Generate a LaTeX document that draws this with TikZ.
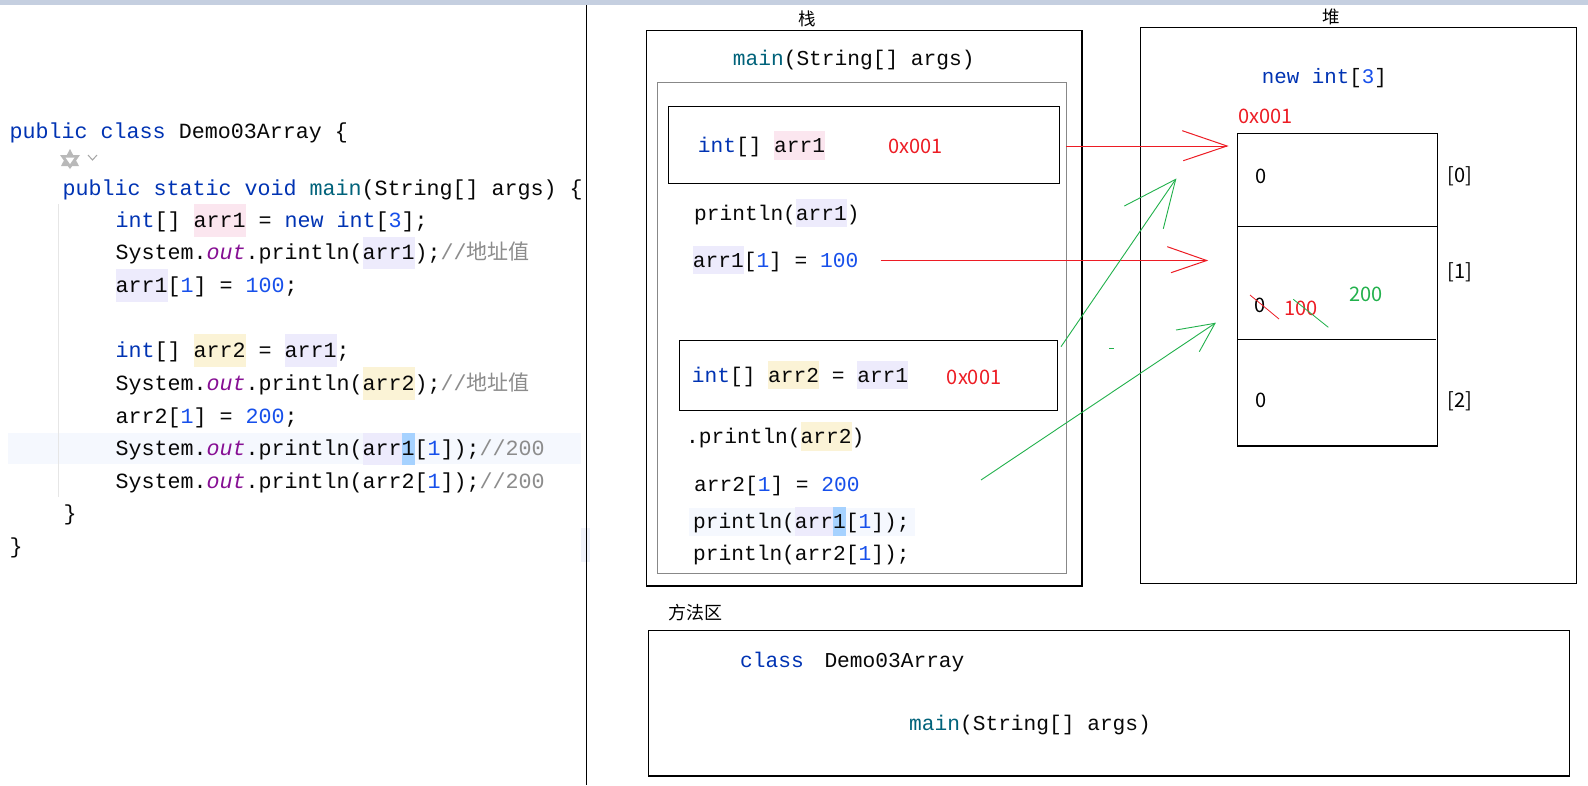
\documentclass[tikz,border=0pt]{standalone}
\usepackage{fontspec}
\usepackage{xcolor}
\newfontfamily\codefont{Liberation Mono}
\newfontfamily\cjk{Noto Sans CJK SC}
\definecolor{kw}{HTML}{0033B3}
\definecolor{num}{HTML}{1750EB}
\definecolor{outc}{HTML}{871094}
\definecolor{fn}{HTML}{00627A}
\definecolor{cmt}{HTML}{8C8C8C}
\definecolor{txt}{HTML}{080808}
\definecolor{hpink}{HTML}{FBE6EF}
\definecolor{hlav}{HTML}{EDEBFC}
\definecolor{hyel}{HTML}{FBF3D6}
\definecolor{hsel}{HTML}{A6D2FF}
\definecolor{rowbg}{HTML}{F5F8FE}
\definecolor{guide}{HTML}{E6E6E6}
\definecolor{band}{HTML}{C5CFE0}
\definecolor{pred}{HTML}{ED1C24}
\definecolor{pgreen}{HTML}{22B14C}
\definecolor{gbox}{HTML}{888888}
\definecolor{strip}{HTML}{F0F2FA}
% highlight: color, height above baseline, depth below, text
\newcommand\hlbg[4]{{\setlength{\fboxsep}{0pt}\colorbox{#1}{\rule[-#3]{0pt}{\dimexpr#2+#3\relax}#4}}}
\newcommand\chl[2]{\hlbg{#1}{23pt}{9.5pt}{#2}}
\newcommand\shl[2]{\hlbg{#1}{21.5pt}{7.3pt}{#2}}
\newcommand\kwd[1]{\textcolor{kw}{#1}}
\newcommand\nm[1]{\textcolor{num}{#1}}
\newcommand\outw{\textcolor{outc}{\itshape out}}
\newcommand\fnm[1]{\textcolor{fn}{#1}}
\newcommand\cmtcn[1]{\textcolor{cmt}{//{\cjk\fontsize{21}{26}\selectfont #1}}}
\begin{document}
\begin{tikzpicture}[x=1pt,y=-1pt,
  code/.style={anchor=base west, inner sep=0pt, text=txt, font=\codefont\fontsize{21.67pt}{26pt}\selectfont},
  scode/.style={anchor=base west, inner sep=0pt, text=txt, font=\codefont\fontsize{21.2pt}{26pt}\selectfont},
  sans/.style={anchor=base west, inner sep=0pt, text=black, font=\cjk\fontsize{20pt}{24pt}\selectfont},
  title/.style={anchor=center, inner sep=0pt, text=black, font=\cjk\fontsize{17.5pt}{21pt}\selectfont},
  boxline/.style={draw=black, line width=1.4pt},
  redline/.style={draw=pred, line width=1pt},
  greenline/.style={draw=pgreen, line width=0.9pt}]
\useasboundingbox (0,0) rectangle (1588,785);
\fill[white] (0,0) rectangle (1588,785);
% top band
\fill[band] (0,0) rectangle (1588,5);
% code panel
\fill[rowbg] (7.6,432.7) rectangle (581,464);
\fill[strip] (581,528) rectangle (590,561.7);
\draw[black, line width=1.2pt] (586.3,5) -- (586.3,785);
\draw[guide, line width=1pt] (58.6,204) -- (58.6,497);
\node[code] (c1) at (9.5,138.7) {\kwd{public class} Demo03Array \{};
% icon
\begin{scope}[shift={(70,158)}]
\fill[gray!55] (-9,8) -- (0,-9) -- (9,8) -- cycle;
\fill[white] (-4,5) -- (0,-3) -- (4,5) -- cycle;
\fill[gray!55] (-10,-3) -- (10,-3) -- (0,11) -- cycle;
\fill[white] (-4.5,-0.5) -- (4.5,-0.5) -- (0,6) -- cycle;
\end{scope}
\draw[gray!70, line width=1pt] (88,155) -- (92.5,160) -- (97,155);
\node[code] (c3) at (62.4,195) {\kwd{public static void} \fnm{main}(String[] args) \{};
\node[code] (c4) at (115.4,227) {\kwd{int}[] \chl{hpink}{arr1} = \kwd{new int}[\nm{3}];};
\node[code] (c5) at (115.4,259.5) {System.\outw.println(\chl{hlav}{arr1});\cmtcn{地址值}};
\node[code] (c6) at (115.4,292) {\chl{hlav}{arr1}[\nm{1}] = \nm{100};};
\node[code] (c8) at (115.4,357) {\kwd{int}[] \chl{hyel}{arr2} = \chl{hlav}{arr1};};
\node[code] (c9) at (115.4,390) {System.\outw.println(\chl{hyel}{arr2});\cmtcn{地址值}};
\node[code] (c10) at (115.4,423) {arr2[\nm{1}] = \nm{200};};
\node[code] (c11) at (115.4,455.5) {System.\outw.println(\chl{hlav}{arr}\chl{hsel}{1}[\nm{1}]);\textcolor{cmt}{//200}};
\node[code] (c12) at (115.4,488) {System.\outw.println(arr2[\nm{1}]);\textcolor{cmt}{//200}};
\node[code] (c13) at (63.5,520.5) {\}};
\node[code] (c14) at (9.5,553) {\}};
% stack
\node[title] (tstack) at (807,19) {栈};
\draw[boxline] (646.5,30.5) rectangle (1082,586);
\draw[gbox, line width=1.3pt] (657.3,82.3) rectangle (1066.3,573.3);
\draw[boxline] (668.7,106.7) rectangle (1059.3,183.3);
\draw[boxline] (679.3,340.7) rectangle (1057.7,410.3);
\node[scode] (smain) at (732.7,65) {\fnm{main}(String[] args)};
\node[scode] (sarr1) at (697.7,152.7) {\kwd{int}[] \shl{hpink}{arr1}};
\node[sans, text=pred] (saddr1) at (888,153) {0x001};
\node[scode] (sp1) at (694,220) {println(\shl{hlav}{arr1})};
\node[scode] (sset1) at (692.7,267) {\shl{hlav}{arr1}[\nm{1}] = \nm{100}};
\node[scode] (sarr2) at (691.7,382) {\kwd{int}[] \shl{hyel}{arr2} = \shl{hlav}{arr1}};
\node[sans, text=pred] (saddr2) at (946.7,384) {0x001};
\node[scode] (sp2) at (686,443.7) {.println(\shl{hyel}{arr2})};
\node[scode] (sset2) at (694,491) {arr2[\nm{1}] = \nm{200}};
\fill[rowbg] (689,508) rectangle (915,535.7);
\node[scode] (sp3) at (693,528.7) {println(\shl{hlav}{arr}\shl{hsel}{1}[\nm{1}]);};
\node[scode] (sp4) at (693,560.3) {println(arr2[\nm{1}]);};
% heap
\node[title] (theap) at (1331,17) {堆};
\draw[boxline] (1140.3,27.7) rectangle (1576.7,583.3);
\node[scode, font=\codefont\fontsize{20.8pt}{25pt}\selectfont] (hnew) at (1261.7,83) {\kwd{new int}[\nm{3}]};
\node[sans, text=pred] (haddr) at (1238.3,123.7) {0x001};
\draw[boxline] (1237.3,133.3) rectangle (1437.7,446);
\draw[black, line width=1.4pt] (1237.3,226.7) -- (1437.7,226.7);
\draw[black, line width=1.4pt] (1237.3,339.3) -- (1436,339.3);
\node[sans] (v0) at (1255,183.7) {0};
\node[sans] (i0) at (1447.5,182.7) {[0]};
\node[sans] (v1) at (1254,312) {0};
\node[sans, text=pred] (v1a) at (1284,315.3) {100};
\node[sans, text=pgreen] (v1b) at (1349.3,301) {200};
\node[sans] (i1) at (1447.5,278.7) {[1]};
\node[sans] (v2) at (1255,407.7) {0};
\node[sans] (i2) at (1447.5,407) {[2]};
\coordinate (x1a) at (1250,295); \coordinate (x1b) at (1279,319);
\draw[pred, line width=0.8pt] (x1a) -- (x1b);
\coordinate (x2a) at (1293.3,299.3); \coordinate (x2b) at (1328.3,327.3);
\draw[pgreen, line width=0.8pt] (x2a) -- (x2b);
% red arrows
\coordinate (r1s) at (1066,146); \coordinate (r1t) at (1227,146);
\coordinate (r1h1) at (1182.3,130.7); \coordinate (r1h2) at (1183.3,160.7);
\draw[redline] (r1s) -- (r1t);
\draw[redline] (r1h1) -- (r1t) -- (r1h2);
\coordinate (r2s) at (880.7,260.5); \coordinate (r2t) at (1206.7,260.5);
\coordinate (r2h1) at (1167.3,246.7); \coordinate (r2h2) at (1171,272.7);
\draw[redline] (r2s) -- (r2t);
\draw[redline] (r2h1) -- (r2t) -- (r2h2);
% green arrows
\coordinate (g1s) at (1061,346.7); \coordinate (g1t) at (1175.7,179.3);
\coordinate (g1h1) at (1124.3,206); \coordinate (g1h2) at (1163.3,228.7);
\draw[greenline] (g1s) -- (g1t);
\draw[greenline] (g1h1) -- (g1t) -- (g1h2);
\coordinate (g2s) at (981,480); \coordinate (g2t) at (1215,323.3);
\coordinate (g2h1) at (1176,330); \coordinate (g2h2) at (1199.3,351.7);
\draw[greenline] (g2s) -- (g2t);
\draw[greenline] (g2h1) -- (g2t) -- (g2h2);
\coordinate (gd1) at (1109.3,348.3); \coordinate (gd2) at (1114,348.3);
\draw[greenline] (gd1) -- (gd2);
% method area
\node[title, anchor=base west, font=\cjk\fontsize{18pt}{22pt}\selectfont] (tmeth) at (668,619.5) {方法区};
\draw[boxline] (648.3,630.7) rectangle (1569.5,776);
\node[scode] (mclass) at (740,667) {\kwd{class}};
\node[scode] (mdemo) at (824.3,667) {Demo03Array};
\node[scode] (mmain) at (909,730.3) {\fnm{main}(String[] args)};
\end{tikzpicture}
\end{document}
